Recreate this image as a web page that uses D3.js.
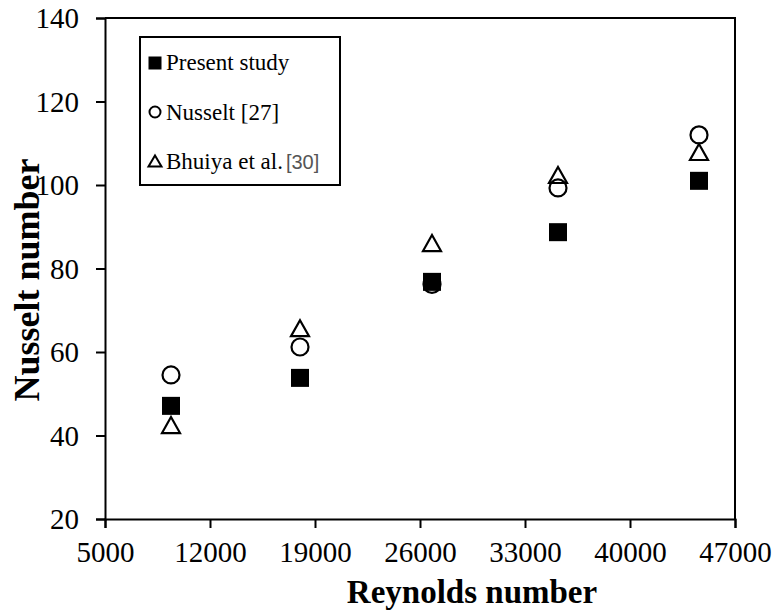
<!DOCTYPE html>
<html>
<head>
<meta charset="utf-8">
<script src="https://cdn.jsdelivr.net/npm/d3@7"></script>
<style>
  html, body { margin: 0; padding: 0; background: #fff; }
  svg { display: block; }
</style>
</head>
<body>
<svg id="chart" width="774" height="615"></svg>
<script>
// Reynolds numbers of the test cases
const reynolds = [9400, 18000, 26800, 35200, 44600];
// Nusselt number series
const presentStudy = [47.1, 53.8, 76.8, 88.7, 101.0];
const nusseltCorr  = [54.5, 61.2, 76.2, 99.3, 112.0];
const bhuiya       = [42.5, 65.7, 86.1, 102.4, 107.9];
// Axis ticks
const xTicks = [5000, 12000, 19000, 26000, 33000, 40000, 47000];
const yTicks = [20, 40, 60, 80, 100, 120, 140];

const SERIF = "'Liberation Serif', 'Times New Roman', Times, serif";
const SANS = "'Liberation Sans', Arial, Helvetica, sans-serif";

const svg = d3.select("#chart");
const plot = { left: 105, right: 735, top: 18, bottom: 519 };

const x = d3.scaleLinear().domain([5000, 47000]).range([plot.left, plot.right]);
const y = d3.scaleLinear().domain([20, 140]).range([plot.bottom, plot.top]);

// Frame: top and right edges
svg.append("path")
  .attr("d", `M${plot.left},${plot.top}H${plot.right}V${plot.bottom}`)
  .attr("fill", "none").attr("stroke", "#000").attr("stroke-width", 2);

// Axes
const xAxis = svg.append("g").attr("transform", `translate(0,${plot.bottom})`)
  .call(d3.axisBottom(x).tickValues(xTicks).tickFormat(d3.format("d")).tickSizeOuter(0).tickSize(9).tickPadding(13));
const yAxis = svg.append("g").attr("transform", `translate(${plot.left},0)`)
  .call(d3.axisLeft(y).tickValues(yTicks).tickSizeOuter(0).tickSize(9).tickPadding(17));
[xAxis, yAxis].forEach(g => {
  g.attr("font-family", null).attr("font-size", null);
  g.select(".domain").attr("stroke", "#000").attr("stroke-width", 2);
  g.selectAll(".tick line").attr("stroke", "#000").attr("stroke-width", 2);
  g.selectAll(".tick text")
    .style("font-family", SERIF)
    .style("font-size", "29px").attr("fill", "#000");
});
yAxis.selectAll(".tick text").attr("dy", "0.34em");

// Axis titles
svg.append("text").attr("x", 472).attr("y", 603).attr("text-anchor", "middle")
  .style("font-family", SERIF).style("font-size", "33px").style("font-weight", "bold")
  .text("Reynolds number");
svg.append("text").attr("transform", "translate(39,280) rotate(-90)").attr("text-anchor", "middle")
  .style("font-family", SERIF).style("font-size", "36px").style("font-weight", "bold")
  .text("Nusselt number");

// Marker drawing helpers
function square(g, cx, cy, s) {
  g.append("rect").attr("x", cx - s / 2).attr("y", cy - s / 2)
    .attr("width", s).attr("height", s).attr("fill", "#000");
}
function circle(g, cx, cy, r, sw) {
  g.append("circle").attr("cx", cx).attr("cy", cy).attr("r", r)
    .attr("fill", "none").attr("stroke", "#000").attr("stroke-width", sw);
}
function triangle(g, cx, cy, w, h, sw) {
  g.append("path")
    .attr("d", `M${cx},${cy - h / 2}L${cx + w / 2},${cy + h / 2}L${cx - w / 2},${cy + h / 2}Z`)
    .attr("fill", "none").attr("stroke", "#000").attr("stroke-width", sw)
    .attr("stroke-linejoin", "miter");
}

const marks = svg.append("g");
reynolds.forEach((re, i) => circle(marks, x(re), y(nusseltCorr[i]), 8.5, 2.2));
reynolds.forEach((re, i) => triangle(marks, x(re), y(bhuiya[i]), 18, 16, 2.2));
reynolds.forEach((re, i) => square(marks, x(re), y(presentStudy[i]), 18));

// Legend
const lg = svg.append("g");
lg.append("rect").attr("x", 140).attr("y", 37).attr("width", 200).attr("height", 148)
  .attr("fill", "#fff").attr("stroke", "#000").attr("stroke-width", 2);
square(lg, 155, 63, 13);
circle(lg, 155, 112, 5.5, 2);
triangle(lg, 155, 161, 13, 11, 2);
const lt = { x: 166, size: "23px" };
lg.append("text").attr("x", lt.x).attr("y", 70)
  .style("font-family", SERIF).style("font-size", lt.size).text("Present study");
lg.append("text").attr("x", lt.x).attr("y", 120)
  .style("font-family", SERIF).style("font-size", lt.size).text("Nusselt [27]");
const t3 = lg.append("text").attr("x", lt.x).attr("y", 169)
  .style("font-family", SERIF).style("font-size", lt.size);
t3.append("tspan").text("Bhuiya et al.");
t3.append("tspan").attr("dx", 3).style("font-family", SANS)
  .style("font-size", "20px").style("fill", "#555").text("[30]");
</script>
</body>
</html>
